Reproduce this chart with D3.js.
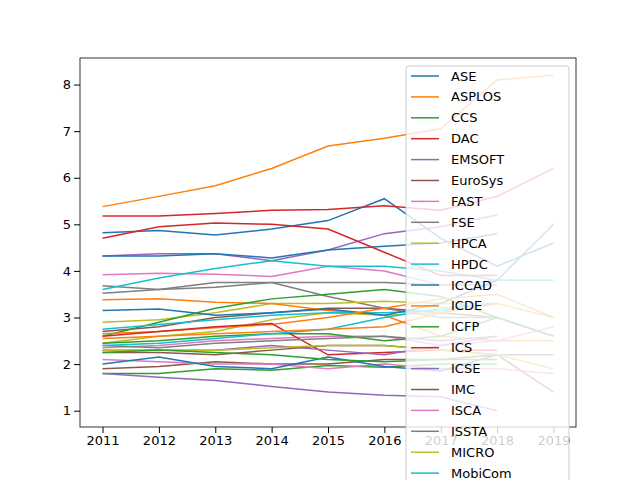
<!DOCTYPE html>
<html>
<head>
<style>body{margin:0;background:#fff}</style>
</head>
<body>
<svg id="svg" width="640" height="480"></svg>
<script src="https://d3js.org/d3.v7.min.js"></script>
<script>
const years = [2011, 2012, 2013, 2014, 2015, 2016, 2017, 2018, 2019]
const names = ['ASE', 'ASPLOS', 'CCS', 'DAC', 'EMSOFT', 'EuroSys', 'FAST', 'FSE', 'HPCA', 'HPDC',
  'ICCAD', 'ICDE', 'ICFP', 'ICS', 'ICSE', 'IMC', 'ISCA', 'ISSTA', 'MICRO', 'MobiCom',
  'MobiSys', 'NSDI', 'OOPSLA', 'OSDI', 'PLDI', 'POPL', 'PPoPP', 'RTSS', 'SC', 'SenSys',
  'SIGCOMM', 'SIGMETRICS', 'SOSP']
const values = [
  [4.82, 4.87, 4.77, 4.9, 5.08, 5.55, 4.7, 4.1, 4.6],
  [5.38, 5.6, 5.83, 6.2, 6.68, 6.85, 7.05, 8.1, 8.2],
  [1.8, 1.8, 1.9, 1.87, 1.97, 1.93, 2.0, 2.0, null],
  [5.18, 5.18, 5.23, 5.3, 5.32, 5.4, 5.3, 5.6, 6.2],
  [4.32, 4.37, 4.37, 4.22, 4.45, 4.8, 4.95, 5.2, null],
  [2.7, 2.8, 3.0, 3.1, 3.2, 3.2, 3.1, 3.0, null],
  [3.92, 3.95, 3.93, 3.88, 4.1, 4.0, 3.7, 3.8, 3.8],
  [3.68, 3.6, 3.75, 3.75, 3.45, 3.2, 3.0, 3.0, 2.6],
  [2.9, 2.95, 3.1, 3.3, 3.3, 3.35, 3.3, 3.3, 3.0],
  [3.6, 3.85, 4.05, 4.22, 4.1, 4.1, 4.0, 3.8, 3.8],
  [4.32, 4.32, 4.37, 4.28, 4.45, 4.53, 4.6, 4.8, null],
  [3.38, 3.4, 3.33, 3.3, 3.15, 3.05, 2.6, 2.5, 2.5],
  [2.6, 2.9, 3.2, 3.4, 3.5, 3.6, 3.45, 3.0, 2.6],
  [4.7, 4.95, 5.03, 5.0, 4.9, 4.4, 3.9, 3.9, null],
  [1.8, 1.72, 1.65, 1.52, 1.4, 1.33, 1.3, 1.0, null],
  [2.25, 2.25, 2.2, 2.3, 2.4, 2.4, 2.3, 2.2, 1.4],
  [2.35, 2.4, 2.5, 2.55, 2.6, 2.6, 2.4, 2.5, 2.8],
  [3.52, 3.6, 3.65, 3.75, 3.75, 3.75, 3.7, 3.7, null],
  [2.45, 2.6, 2.7, 2.95, 3.1, 3.05, 3.1, 3.3, null],
  [2.75, 2.85, 2.95, 3.05, 3.1, 3.1, 3.15, 3.3, null],
  [3.15, 3.18, 3.05, 3.1, 3.18, 3.05, 3.3, 3.8, 5.0],
  [2.65, 2.7, 2.78, 2.85, 3.0, 3.2, 3.4, 3.5, 3.0],
  [2.45, 2.5, 2.6, 2.65, 2.65, 2.5, 2.6, 3.0, 2.6],
  [2.6, 2.7, 2.8, 2.87, 2.2, 2.25, 2.3, 2.3, null],
  [2.3, 2.3, 2.3, 2.4, 2.3, 2.2, 2.4, 2.6, null],
  [1.9, 1.95, 2.05, 2.0, 2.0, 2.1, 2.1, 2.2, 2.2],
  [2.1, 2.05, 2.0, 2.0, 1.9, 2.0, 1.9, 1.9, 1.8],
  [2.4, 2.35, 2.45, 2.5, 2.55, 2.6, 2.5, 2.6, null],
  [2.3, 2.3, 2.3, 2.35, 2.4, 2.4, 2.3, 2.2, 1.9],
  [2.4, 2.45, 2.55, 2.65, 2.75, 3.0, 3.2, 3.3, null],
  [2.0, 2.15, 1.95, 1.9, 2.15, 1.95, 1.85, 2.2, null],
  [2.55, 2.6, 2.65, 2.7, 2.75, 2.8, 3.1, 3.3, null],
  [2.25, 2.3, 2.25, 2.2, 2.1, 2.05, 2.1, 2.1, null]
]
const yTicks = [1, 2, 3, 4, 5, 6, 7, 8]
const colors = ['#1f77b4', '#ff7f0e', '#2ca02c', '#d62728', '#9467bd', '#8c564b', '#e377c2', '#7f7f7f', '#bcbd22', '#17becf']

const mLeft = 80, mRight = 576, mTop = 58, mBottom = 427
const x = d3.scaleLinear().domain([2010.6, 2019.4]).range([mLeft, mRight])
const y = d3.scaleLinear().domain([0.65, 8.57]).range([mBottom, mTop])
const svg = d3.select('#svg').style('font-family', 'DejaVu Sans')

const line = d3.line()
  .defined(d => d[1] !== null)
  .x(d => x(d[0]))
  .y(d => y(d[1]))

svg.append('g').selectAll('path')
  .data(values)
  .join('path')
  .attr('d', v => line(v.map((d, i) => [years[i], d])))
  .attr('fill', 'none')
  .attr('stroke', (d, i) => colors[i % 10])
  .attr('stroke-width', 1.5)

const xa = svg.append('g').attr('transform', `translate(0,${mBottom})`)
  .call(d3.axisBottom(x).tickValues(years).tickFormat(d3.format('d')).tickSizeOuter(0))
const ya = svg.append('g').attr('transform', `translate(${mLeft},0)`)
  .call(d3.axisLeft(y).tickValues(yTicks).tickSizeOuter(0))
for (const a of [xa, ya]) {
  a.select('.domain').remove()
  a.selectAll('text').attr('font-size', 13).attr('fill', '#000').attr('font-family', 'DejaVu Sans')
  a.selectAll('line').attr('stroke', '#000')
}
svg.append('rect').attr('x', mLeft).attr('y', mTop)
  .attr('width', mRight - mLeft).attr('height', mBottom - mTop)
  .attr('fill', 'none').attr('stroke', '#000').attr('stroke-width', 0.8)

const legendNames = names.slice(0, 23)
const lg = svg.append('g')
lg.append('rect').attr('x', 406).attr('y', 66).attr('width', 163).attr('height', 460)
  .attr('rx', 3).attr('fill', '#fff').attr('fill-opacity', 0.8).attr('stroke', '#ccc')
const items = lg.selectAll('g.item').data(legendNames).join('g')
  .attr('transform', (d, i) => `translate(0,${76 + i * 20.9})`)
items.append('line').attr('x1', 411).attr('x2', 439)
  .attr('stroke', (d, i) => colors[i % 10]).attr('stroke-width', 1.5)
items.append('text').attr('x', 451).attr('dy', '0.35em')
  .attr('font-size', 13).text(d => d)
</script>
</body>
</html>
